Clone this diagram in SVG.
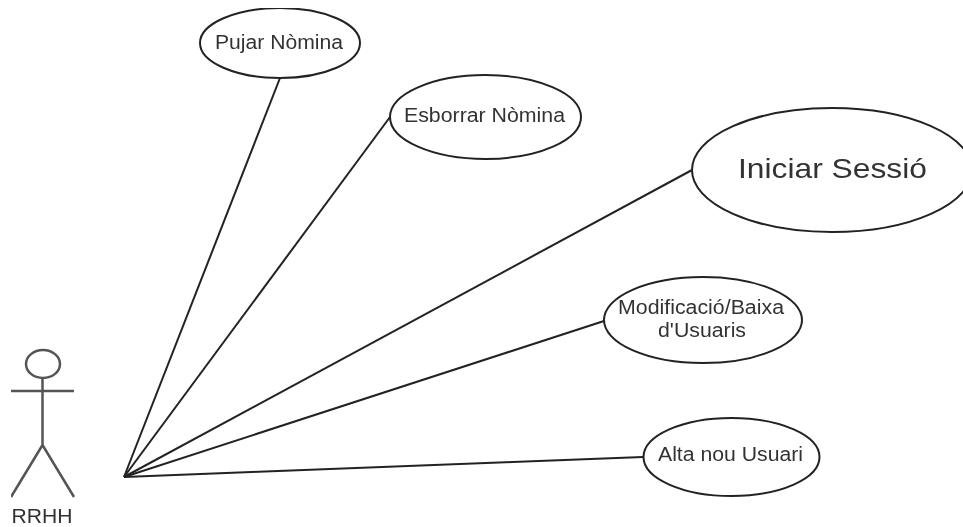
<svg xmlns="http://www.w3.org/2000/svg" width="963" height="527" viewBox="0 0 963 527">
<style>
.s{fill:none;stroke:#222;stroke-width:2}
.a{fill:none;stroke:#555;stroke-width:2.5}
.e{fill:#fff;stroke:#222;stroke-width:2}
text{font-family:"Liberation Sans",Arial,sans-serif;fill:#333;text-anchor:middle}
.t{font-size:20px}
</style>
<defs><filter id="soft" x="0" y="0" width="100%" height="100%"><feGaussianBlur stdDeviation="0.45"/></filter></defs>
<rect width="963" height="527" fill="#fff"/>
<g filter="url(#soft)">
<g id="connectors">
<line class="s" x1="124" y1="477" x2="280" y2="78"/>
<line class="s" x1="124" y1="477" x2="390" y2="117"/>
<line class="s" x1="124" y1="477" x2="692" y2="170"/>
<line class="s" x1="124" y1="477" x2="604" y2="321"/>
<line class="s" x1="124" y1="477" x2="643" y2="457"/>
</g>
<g id="actor-rrhh">
<ellipse class="a" cx="43" cy="364" rx="17" ry="14"/>
<path class="a" d="M11 391H74M42.5 378V445M11 497L42.5 445L74 497"/>
<text class="t" x="42" y="523" textLength="61" lengthAdjust="spacingAndGlyphs">RRHH</text>
</g>
<g id="uc-pujar"><ellipse class="e" cx="280" cy="43" rx="80" ry="35"/><text class="t" x="279" y="49" textLength="128" lengthAdjust="spacingAndGlyphs">Pujar Nòmina</text></g>
<g id="uc-esborrar"><ellipse class="e" cx="485.5" cy="117" rx="95.5" ry="42"/><text class="t" x="484.5" y="122" textLength="161" lengthAdjust="spacingAndGlyphs">Esborrar Nòmina</text></g>
<g id="uc-iniciar"><ellipse class="e" cx="832" cy="170" rx="140" ry="62"/><text x="832.5" y="178" style="font-size:28px" textLength="189" lengthAdjust="spacingAndGlyphs">Iniciar Sessió</text></g>
<g id="uc-modificacio"><ellipse class="e" cx="703" cy="320" rx="99" ry="43"/><text class="t" x="701" y="314" textLength="166" lengthAdjust="spacingAndGlyphs">Modificació/Baixa</text><text class="t" x="702" y="337" textLength="88" lengthAdjust="spacingAndGlyphs">d'Usuaris</text></g>
<g id="uc-alta"><ellipse class="e" cx="731.5" cy="457" rx="88" ry="39"/><text class="t" x="730.5" y="461" textLength="145" lengthAdjust="spacingAndGlyphs">Alta nou Usuari</text></g>
</g>
</svg>
